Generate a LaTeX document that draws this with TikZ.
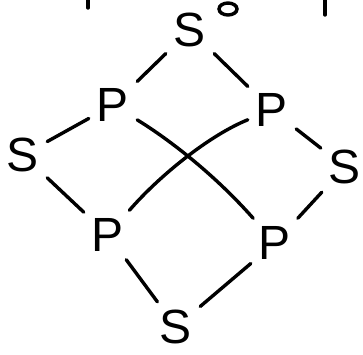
\documentclass[tikz,border=0pt]{standalone}
\usepackage{fontspec}
\setmainfont{Liberation Sans}
\usepackage{tikz}
\usetikzlibrary{calc}
\tikzset{
  lt/.style={inner sep=8pt,font=\fontsize{48}{52}\selectfont},
  ed/.style={-,draw=black,line width=3.4pt,line cap=round},
  tk/.style={draw=black,line width=3.4pt,line cap=round}
}
\begin{document}
\begin{tikzpicture}[x=1pt,y=-1pt]
\useasboundingbox (0,0) rectangle (363,354);
% letters
\node[lt](stop) at (190,30){S};
\node[lt](plt) at (113,105){P};\node[lt](prt) at (272,110){P};
\node[lt](sl) at (23,155){S};\node[lt](sr) at (345,167){S};
\node[lt](plb) at (108,235){P};\node[lt](prb) at (275,243){P};
\node[lt](sb) at (176,327){S};
% outer ring
\foreach \a/\b in {stop/plt,stop/prt,sl/plt,sl/plb,prt/sr,sr/prb,plb/sb,sb/prb}{\draw[ed](\a)--(\b);}
% crossing
\draw[ed] (plt) .. controls (170,140) and (215,175) .. (prb);
\draw[ed] (plb) .. controls (160,175) and (210,135) .. (prt);
% cut-off marks at top
\draw[tk] (88,0)--(88,8);
\draw[tk] (325,0)--(325,15);
\draw[tk] (228,9) ellipse [x radius=9,y radius=6];
\end{tikzpicture}
\end{document}
